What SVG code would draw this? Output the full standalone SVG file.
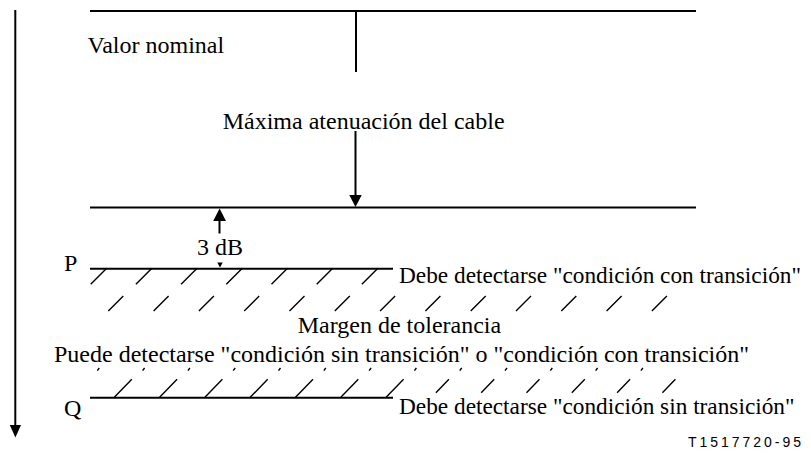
<svg xmlns="http://www.w3.org/2000/svg" width="811" height="455" viewBox="0 0 811 455">
<defs>
<style>
.ln{stroke:#000;stroke-width:2;fill:none}
.h{stroke:#000;stroke-width:1.4;fill:none}
.ah{fill:#000;stroke:none}
.t{font-family:"Liberation Serif","Times New Roman",serif;font-size:24px;fill:#000}
.d{font-size:23.3px}
.s{font-family:"Liberation Sans",Arial,sans-serif;font-size:14px;fill:#000}
</style>
</defs>
<rect width="811" height="455" fill="#fff"/>
<g id="axis">
<line class="ln" x1="15.3" y1="10" x2="15.3" y2="426"/>
<polygon class="ah" points="9.8,425 21,425 15.4,437.5"/>
</g>
<g id="nominal">
<line class="ln" x1="90" y1="11" x2="696" y2="11"/>
<text class="t" x="87.5" y="53">Valor nominal</text>
</g>
<g id="maxatt">
<line class="ln" x1="90" y1="207.5" x2="696" y2="207.5"/>
<text class="t" x="222.7" y="128.5">Máxima atenuación del cable</text>
</g>
<g id="levelP">
<line class="ln" x1="90" y1="268.7" x2="393" y2="268.7"/>
<text class="t" x="64" y="271">P</text>
<text class="t d" x="399" y="283">Debe detectarse "condición con transición"</text>
</g>
<g id="margin">
<text class="t" x="297.7" y="333">Margen de tolerancia</text>
<text class="t" x="54" y="362">Puede detectarse "condición sin transición" o "condición con transición"</text>
</g>
<g id="levelQ">
<line class="ln" x1="90" y1="397.7" x2="393" y2="397.7"/>
<text class="t" x="64" y="416">Q</text>
<text class="t d" x="399" y="414">Debe detectarse "condición sin transición"</text>
</g>
<g id="hatching">
<path class="h" d="M90.7,284.3l16,-16M135.9,284.3l16,-16M181.1,284.3l16,-16M226.3,284.3l16,-16M271.5,284.3l16,-16M316.7,284.3l16,-16M361.9,284.3l16,-16"/>
<path class="h" d="M108.3,311l15,-15M153.6,311l15,-15M198.9,311l15,-15M244.2,311l15,-15M289.5,311l15,-15M334.8,311l15,-15M380.1,311l15,-15M425.4,311l15,-15M470.7,311l15,-15M516,311l15,-15M561.3,311l15,-15M606.6,311l15,-15M651.9,311l15,-15"/>
<path class="h" d="M99.3,368l-2,2.7M144.6,368l-2,2.7M189.9,368l-2,2.7M235.2,368l-2,2.7M280.5,368l-2,2.7M325.8,368l-2,2.7M371.1,368l-2,2.7M416.4,368l-2,2.7M461.7,368l-2,2.7M507,368l-2,2.7M552.3,368l-2,2.7M597.6,368l-2,2.7M642.9,368l-2,2.7"/>
<path class="h" d="M114.3,397.3l17.5,-18M159.6,397.3l17.5,-18M204.9,397.3l17.5,-18M250.2,397.3l17.5,-18M295.5,397.3l17.5,-18M340.8,397.3l17.5,-18M386.1,397.3l17.5,-18M435.9,392.7l13,-13.4M481.2,392.7l13,-13.4M526.5,392.7l13,-13.4M571.8,392.7l13,-13.4M617.1,392.7l13,-13.4M662.4,392.7l13,-13.4"/>
</g>
<g id="connectors">
<line class="ln" x1="356" y1="11" x2="356" y2="72"/>
<line class="ln" x1="355.5" y1="131" x2="355.5" y2="196"/>
<polygon class="ah" points="349.3,195 361.7,195 355.5,207"/>
<line class="ln" x1="219.5" y1="220" x2="219.5" y2="233.5"/>
<polygon class="ah" points="213.2,221 226,221 219.6,208.5"/>
<polygon class="ah" points="217.3,262.5 222.7,262.5 220,267.5"/>
<text class="t" x="197" y="255">3 dB</text>
</g>
<text class="s" x="688" y="447" textLength="113" lengthAdjust="spacing">T1517720-95</text>
</svg>
